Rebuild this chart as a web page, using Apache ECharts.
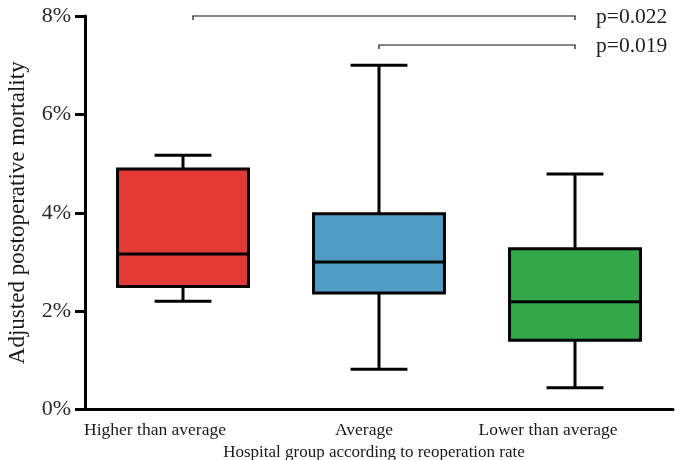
<!DOCTYPE html>
<html><head><meta charset="utf-8">
<script src="https://cdn.jsdelivr.net/npm/echarts/dist/echarts.min.js"></script>
<style>html,body{margin:0;padding:0;background:#fff}#c{width:675px;height:460px}</style>
</head><body><div id="c"></div>
<script>
// ---- data ----
const categories = ['Higher than average', 'Average', 'Lower than average'];
const lowWhisker  = [2.20, 0.82, 0.44];
const q1          = [2.50, 2.37, 1.41];
const median      = [3.16, 3.00, 2.19];
const q3          = [4.89, 3.98, 3.27];
const highWhisker = [5.17, 7.00, 4.79];
const yTicks = [0, 2, 4, 6, 8];
const compFrom  = [0, 1];
const compTo    = [2, 2];
const compLevel = [8.0, 7.41];
const compText  = ['p=0.022', 'p=0.019'];

// ---- style ----
const boxColors = ['#e23a34', '#4f9cc5', '#33a84a'];
const labelNudge = [56, 30, 54];
const FONT = 'Liberation Serif';

const boxData = categories.map((c, i) => [i, lowWhisker[i], q1[i], median[i], q3[i], highWhisker[i]]);
const compData = compFrom.map((f, i) => [f, compTo[i], compLevel[i], i]);

const chart = echarts.init(document.getElementById('c'), null, {renderer: 'canvas'});
chart.setOption({
  animation: false,
  grid: {left: 85, right: 2, top: 16, bottom: 50.5, containLabel: false, outerBoundsMode: 'none'},
  xAxis: {
    type: 'category',
    data: categories.map((c, i) => ({value: c, textStyle: {padding: [0, labelNudge[i], 0, 0]}})),
    boundaryGap: true,
    axisLine: {lineStyle: {color: '#000', width: 3}},
    axisTick: {alignWithLabel: true, length: 7, lineStyle: {color: '#000', width: 3}},
    axisLabel: {fontFamily: FONT, fontSize: 17.5, color: '#1a1a1a', margin: 12},
    name: 'Hospital group according to reoperation rate',
    nameLocation: 'middle', nameGap: 31,
    nameTextStyle: {fontFamily: FONT, fontSize: 17, color: '#1a1a1a', padding: [0, 10, 0, 0]},
    splitLine: {show: false}
  },
  yAxis: {
    type: 'value', min: yTicks[0], max: yTicks[yTicks.length - 1], interval: 2,
    axisLine: {show: true, lineStyle: {color: '#000', width: 3}},
    axisTick: {show: true, length: 10, lineStyle: {color: '#000', width: 3}},
    axisLabel: {formatter: '{value}%', fontFamily: FONT, fontSize: 22, color: '#2a2a2a', margin: 14},
    splitLine: {show: false},
    name: 'Adjusted postoperative mortality',
    nameLocation: 'middle', nameGap: 56, nameRotate: 90,
    nameTextStyle: {fontFamily: FONT, fontSize: 23, color: '#1a1a1a'}
  },
  series: [{
    type: 'custom',
    data: boxData,
    encode: {x: 0, y: [1, 2, 3, 4, 5]},
    renderItem: function (params, api) {
      const i = api.value(0);
      const x = api.coord([i, 0])[0];
      const band = api.size([1, 0])[0];
      const bw = band * 0.668, cw = band * 0.29;
      const yl = api.coord([i, api.value(1)])[1];
      const y1 = api.coord([i, api.value(2)])[1];
      const ym = api.coord([i, api.value(3)])[1];
      const y3 = api.coord([i, api.value(4)])[1];
      const yh = api.coord([i, api.value(5)])[1];
      const ls = {stroke: '#000', lineWidth: 3, fill: null};
      return {type: 'group', children: [
        {type: 'line', shape: {x1: x, y1: yh, x2: x, y2: y3}, style: ls},
        {type: 'line', shape: {x1: x, y1: y1, x2: x, y2: yl}, style: ls},
        {type: 'line', shape: {x1: x - cw / 2, y1: yh, x2: x + cw / 2, y2: yh}, style: ls},
        {type: 'line', shape: {x1: x - cw / 2, y1: yl, x2: x + cw / 2, y2: yl}, style: ls},
        {type: 'rect', shape: {x: x - bw / 2, y: y3, width: bw, height: y1 - y3},
          style: {fill: boxColors[i], stroke: '#000', lineWidth: 3}},
        {type: 'line', shape: {x1: x - bw / 2, y1: ym, x2: x + bw / 2, y2: ym}, style: ls}
      ]};
    }
  }, {
    type: 'custom',
    data: compData,
    encode: {x: [0, 1], y: 2},
    clip: false,
    renderItem: function (params, api) {
      const a = api.coord([api.value(0), api.value(2)]);
      const b = api.coord([api.value(1), api.value(2)]);
      const xa = a[0] + (api.value(0) === 0 ? 10 : 0);
      const s = {stroke: '#111', lineWidth: 1.2, fill: null};
      return {type: 'group', children: [
        {type: 'polyline', shape: {points: [[xa, a[1] + 4], [xa, a[1]], [b[0], b[1]], [b[0], b[1] + 4]]}, style: s},
        {type: 'text', x: b[0] + 21, y: b[1] + 1,
          style: {text: compText[api.value(3)], fontFamily: FONT, fontSize: 21.5, fill: '#222',
            align: 'left', verticalAlign: 'middle'}}
      ]};
    }
  }]
});
</script></body></html>
